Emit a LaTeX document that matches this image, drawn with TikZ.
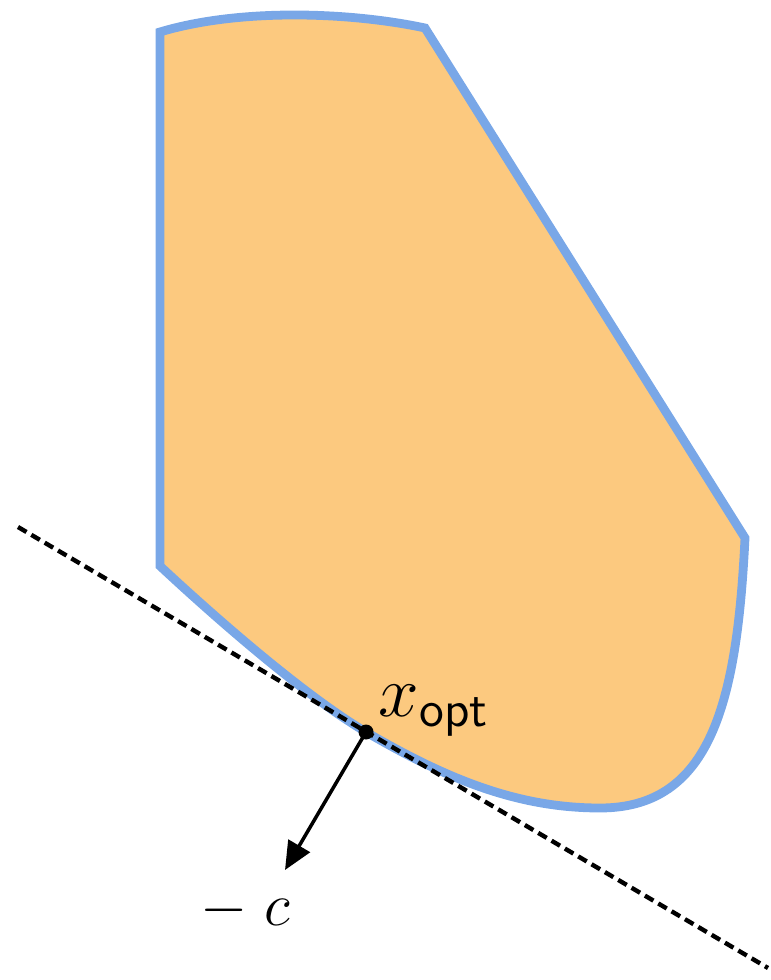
\documentclass[tikz,border=0pt]{standalone}
\usetikzlibrary{arrows.meta}
\definecolor{regionfill}{RGB}{252,201,127}
\definecolor{regionline}{RGB}{121,167,231}

\begin{document}
\begin{tikzpicture}[x=0.01cm,y=-0.01cm,
  label text/.style={font=\fontsize{20}{24}\selectfont, inner sep=0pt}]
\useasboundingbox (0,0) rectangle (770,980);

\coordinate (tl) at (160,32);
\coordinate (tr) at (425,28);
\coordinate (rc) at (745,538);
\coordinate (bt) at (600,808);
\coordinate (xopt) at (366,732);
\coordinate (bl) at (160,566);

\filldraw[fill=regionfill, draw=regionline, line width=2.5pt]
  (tl) .. controls (240,8) and (350,12) .. (tr) -- (rc)
  .. controls (737,700) and (712,808) .. (bt)
  .. controls (520,808) and (450,781) .. (xopt)
  .. controls (300,693) and (205,608) .. (bl) -- cycle;

\coordinate (dl) at (18,527);
\coordinate (dr) at (768,968);
\draw[line width=1.25pt, dash pattern=on 2.8pt off 1.6pt] (dl) -- (dr);

\coordinate (tip) at (285,870);
\draw[line width=1pt, -{Triangle[length=8pt,width=7pt]}] (xopt) -- (tip);
\fill (xopt) circle (7.5);

\node[label text, anchor=base west] (xlabel) at (378,716) {$x_{\mathsf{opt}}$};
\node[label text, font=\fontsize{18}{22}\selectfont, anchor=base west] (clabel) at (200,925) {$-\;c$};
\end{tikzpicture}
\end{document}
